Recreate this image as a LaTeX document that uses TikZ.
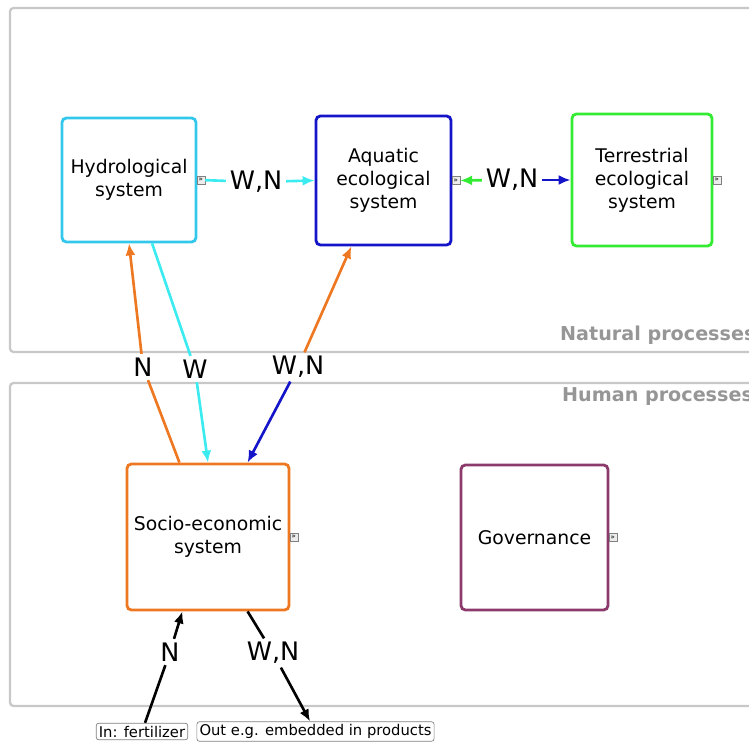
\documentclass[tikz,border=0pt]{standalone}
\usepackage{fontspec}
\setmainfont{DejaVu Sans}
\usetikzlibrary{positioning, arrows.meta, calc}
\definecolor{hydcyan}{RGB}{51,200,235}
\definecolor{flowcyan}{RGB}{60,235,240}
\definecolor{aquablue}{RGB}{20,20,200}
\definecolor{terrgreen}{RGB}{51,235,51}
\definecolor{socorange}{RGB}{238,119,34}
\definecolor{govpurple}{RGB}{139,58,107}
\definecolor{panelgray}{RGB}{200,200,200}
\definecolor{paneltext}{RGB}{150,150,150}

\begin{document}
\begin{tikzpicture}[x=1cm, y=1cm, >={Latex[length=2.4mm, width=2mm]},
	sys/.style={draw, line width=1.6pt, rounded corners=2.5pt, align=center, font=\fontsize{10.7}{13}\selectfont},
	flowline/.style={line width=1.5pt},
	flow/.style={->, line width=1.5pt},
	flowlabel/.style={font=\fontsize{14.5}{16}\selectfont, inner sep=2pt},
	more/.style={draw=gray, fill=gray!15, line width=0.3pt, minimum size=0.16cm, inner sep=0pt, font=\fontsize{4}{4}\selectfont},
	panel/.style={draw=panelgray, line width=1.3pt, rounded corners=2pt},
	paneltitle/.style={font=\fontsize{10.9}{12}\selectfont\bfseries, text=paneltext, anchor=west},
	extbox/.style={draw=gray, line width=0.4pt, rounded corners=1.5pt, inner sep=1.5pt, font=\fontsize{8.4}{10}\selectfont}]
	\useasboundingbox (0,0) rectangle (14.98,14.84);
	\draw[panel] (0.2,7.8) rectangle (15.4,14.68);
	\draw[panel] (0.2,0.72) rectangle (15.4,7.18);
	\node[paneltitle] (nat) at (11.08,8.14) {Natural processes};
	\node[paneltitle] (hum) at (11.12,6.9) {Human processes};

	\node[sys, draw=hydcyan, minimum width=2.68cm, minimum height=2.48cm] (hydro) at (2.58,11.24) {Hydrological\\ system};
	\node[sys, draw=aquablue, minimum width=2.7cm, minimum height=2.58cm] (aqua) at (7.67,11.23) {Aquatic\\ ecological\\ system};
	\node[sys, draw=terrgreen, minimum width=2.8cm, minimum height=2.64cm] (terr) at (12.84,11.24) {Terrestrial\\ ecological\\ system};
	\node[sys, draw=socorange, minimum width=3.24cm, minimum height=2.92cm] (socio) at (4.16,4.1) {Socio-economic\\ system};
	\node[sys, draw=govpurple, minimum width=2.94cm, minimum height=2.9cm] (gov) at (10.69,4.09) {Governance};
	\node[more, right=-0.5pt of hydro.east] (hydmore) {»};
	\node[more, right=-0.5pt of aqua.east] (aquamore) {»};
	\node[more, right=-0.5pt of terr.east] (terrmore) {»};
	\node[more, right=-0.5pt of socio.east] (socmore) {»};
	\node[more, right=-0.5pt of gov.east] (govmore) {»};

	\node[flowlabel] (wn1) at (5.12,11.2) {W,N};
	\node[flowlabel] (wn2) at (10.24,11.24) {W,N};
	\node[flowlabel] (n1) at (2.86,7.5) {N};
	\node[flowlabel] (w1) at (3.9,7.46) {W};
	\node[flowlabel] (wn3) at (5.96,7.5) {W,N};
	\node[flowlabel] (n2) at (3.4,1.8) {N};
	\node[flowlabel] (wn4) at (5.46,1.78) {W,N};
	\node[extbox] (in) at (2.84,0.21) {In: fertilizer};
	\node[extbox] (out) at (6.31,0.21) {Out e.g. embedded in products};

	\draw[flowline, flowcyan] (hydmore) -- (wn1);
	\draw[flow, flowcyan] (wn1) -- (aqua.west);
	\draw[flow, terrgreen] (wn2) -- (aquamore);
	\draw[flow, aquablue] (wn2) -- (terr.west);
	\draw[flowline, socorange] (socio.111) -- (n1);
	\draw[flow, socorange] (n1) -- (hydro.south);
	\draw[flowline, flowcyan] (hydro.-70) -- (w1);
	\draw[flow, flowcyan] (w1) -- (socio.north);
	\draw[flow, socorange] (wn3) -- (aqua.-116);
	\draw[flow, aquablue] (wn3) -- (socio.62);
	\draw[flowline] (in) -- (n2);
	\draw[flow] (n2) -- (socio.-109);
	\draw[flowline] (socio.-62) -- (wn4);
	\draw[flow] (wn4) -- (out);
\end{tikzpicture}
\end{document}
